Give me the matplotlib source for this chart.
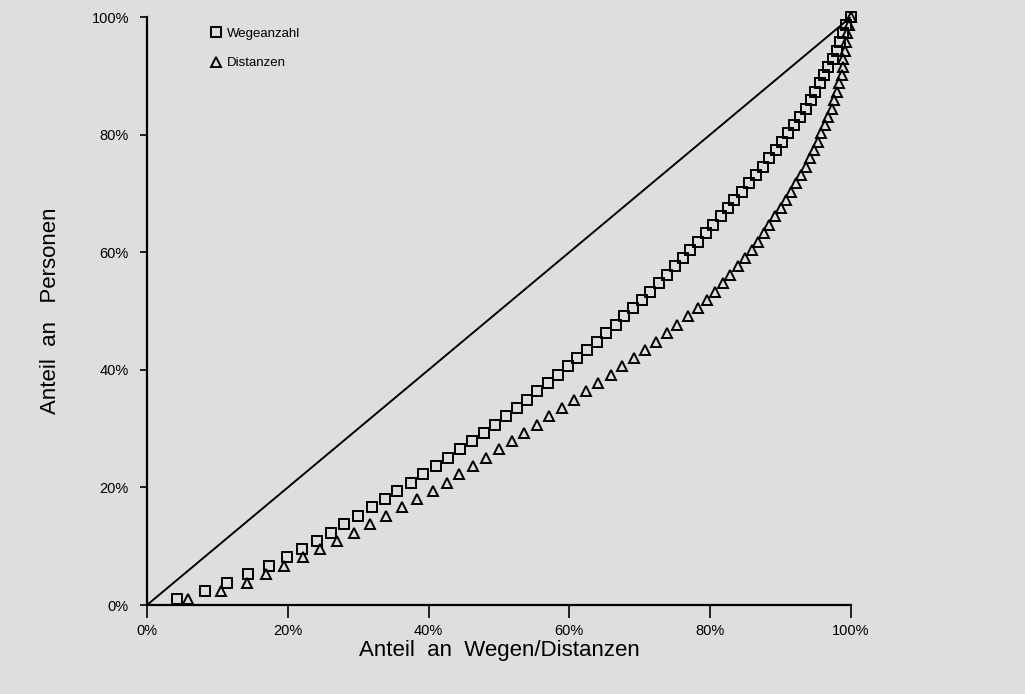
import matplotlib
matplotlib.use("Agg")
import matplotlib.pyplot as plt
from matplotlib.ticker import FuncFormatter

# Cumulative share of persons (%), common to both curves
anteil_personen = [
    1.0, 2.4, 3.8, 5.2, 6.7, 8.1, 9.5, 10.9, 12.3, 13.7,
    15.1, 16.6, 18.0, 19.4, 20.8, 22.2, 23.6, 25.0, 26.5, 27.9,
    29.3, 30.7, 32.1, 33.5, 34.9, 36.4, 37.8, 39.2, 40.6, 42.0,
    43.4, 44.8, 46.3, 47.7, 49.1, 50.5, 51.9, 53.3, 54.7, 56.2,
    57.6, 59.0, 60.4, 61.8, 63.2, 64.6, 66.1, 67.5, 68.9, 70.3,
    71.7, 73.1, 74.5, 76.0, 77.4, 78.8, 80.2, 81.6, 83.0, 84.4,
    85.9, 87.3, 88.7, 90.1, 91.5, 92.9, 94.3, 95.8, 97.2, 98.6,
    100.0,
]

# Cumulative share of trips (%)
wegeanzahl = [
    4.2, 8.2, 11.4, 14.3, 17.3, 19.9, 22.0, 24.1, 26.1, 28.0,
    30.0, 32.0, 33.8, 35.5, 37.5, 39.2, 41.0, 42.8, 44.5, 46.2,
    47.9, 49.4, 51.0, 52.6, 54.0, 55.4, 57.0, 58.4, 59.8, 61.1,
    62.5, 63.9, 65.2, 66.6, 67.8, 69.0, 70.3, 71.5, 72.7, 73.9,
    75.0, 76.1, 77.2, 78.3, 79.4, 80.4, 81.5, 82.5, 83.4, 84.5,
    85.5, 86.5, 87.5, 88.4, 89.3, 90.2, 91.1, 91.9, 92.8, 93.6,
    94.3, 94.9, 95.6, 96.2, 96.7, 97.4, 98.0, 98.4, 98.9, 99.3,
    100.0,
]

# Cumulative share of distances (%)
distanzen = [
    5.8, 10.5, 14.2, 16.9, 19.5, 22.2, 24.6, 27.0, 29.4, 31.7,
    34.0, 36.2, 38.4, 40.6, 42.6, 44.3, 46.3, 48.2, 50.0, 51.8,
    53.6, 55.4, 57.1, 58.9, 60.7, 62.4, 64.1, 65.9, 67.5, 69.2,
    70.7, 72.3, 73.9, 75.3, 76.8, 78.3, 79.5, 80.7, 81.8, 82.8,
    83.9, 84.9, 85.9, 86.8, 87.6, 88.4, 89.2, 90.0, 90.8, 91.5,
    92.2, 92.9, 93.6, 94.2, 94.7, 95.3, 95.7, 96.3, 96.7, 97.3,
    97.6, 98.0, 98.3, 98.7, 98.8, 98.9, 99.1, 99.3, 99.5, 99.7,
    100.0,
]

gleichverteilung = [0, 100]
ticks = [0, 20, 40, 60, 80, 100]

plt.rcParams["font.family"] = ["Liberation Sans", "DejaVu Sans"]

bg = "#dedede"
fig = plt.figure(figsize=(10.25, 6.94), dpi=100, facecolor=bg)
ax = fig.add_axes([0.1434, 0.1282, 0.6868, 0.8473])
ax.set_facecolor(bg)

ax.plot(gleichverteilung, gleichverteilung, color="black", lw=1.4, zorder=2)
ax.plot(wegeanzahl, anteil_personen, ls="none", marker="s", ms=6.5,
        mfc="none", mec="black", mew=1.4, label="Wegeanzahl", zorder=3,
        clip_on=False)
ax.plot(distanzen, anteil_personen, ls="none", marker="^", ms=6.5,
        mfc="none", mec="black", mew=1.4, label="Distanzen", zorder=3,
        clip_on=False)

ax.set_xlim(0, 100)
ax.set_ylim(0, 100)
ax.set_xticks(ticks)
ax.set_yticks(ticks)
pct = FuncFormatter(lambda v, _: f"{v:.0f}%")
ax.xaxis.set_major_formatter(pct)
ax.yaxis.set_major_formatter(pct)

for side in ("top", "right"):
    ax.spines[side].set_visible(False)
for side in ("left", "bottom"):
    ax.spines[side].set_linewidth(1.6)

ax.tick_params(axis="x", direction="out", length=9, width=1.2,
               labelsize=10.5, pad=5)
ax.tick_params(axis="y", direction="out", length=5, width=1.2,
               labelsize=10.5, pad=8)

ax.set_xlabel("Anteil  an  Wegen/Distanzen", fontsize=16, labelpad=1)
ax.set_ylabel("Anteil  an   Personen", fontsize=16, labelpad=22)

ax.legend(loc="upper left", bbox_to_anchor=(0.078, 0.995), frameon=False,
          fontsize=9.5, labelspacing=1.3, handletextpad=0.3,
          handlelength=1.0, borderaxespad=0.2)

fig.savefig("out.png", dpi=100, facecolor=bg)
